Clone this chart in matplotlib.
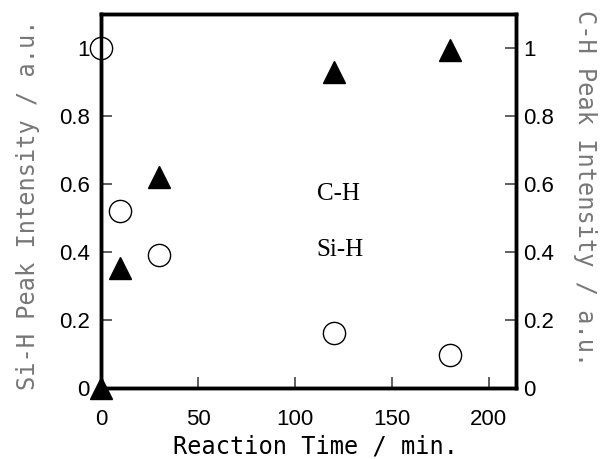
import matplotlib

matplotlib.use("Agg")
import matplotlib.pyplot as plt

# reaction time (min) and normalised peak intensities
time_sih = [0, 10, 30, 120, 180]
sih = [1.0, 0.52, 0.39, 0.163, 0.098]
time_ch = [0, 10, 30, 120, 180]
ch = [0.0, 0.353, 0.62, 0.93, 0.995]

yticks = [0, 0.2, 0.4, 0.6, 0.8, 1]
ytick_labels = ["0", "0.2", "0.4", "0.6", "0.8", "1"]
xticks = [0, 50, 100, 150, 200]

label_font = "DejaVu Sans Mono"
tick_font = "Liberation Sans"
W, H = 600, 459

fig = plt.figure(figsize=(W / 100, H / 100), dpi=100)
ax = fig.add_axes([101 / W, 1 - 388 / H, 415 / W, 374 / H])
ax2 = ax.twinx()

ax.plot(time_sih, sih, "o", ms=16, mfc="white", mec="black", mew=1.0,
        clip_on=False, zorder=3)
ax2.plot(time_ch, ch, "^", ms=16, mfc="black", mec="black",
         clip_on=False, zorder=3)

for a in (ax, ax2):
    a.set_xlim(0, 214)
    a.set_ylim(0, 1.1)
    a.set_yticks(yticks)
    a.set_yticklabels(ytick_labels, fontfamily=tick_font, fontsize=16)
    for s in a.spines.values():
        s.set_linewidth(2.5)
    a.tick_params(direction="in", length=8, width=1.2, color="#444444")

ax.set_xticks(xticks)
ax.set_xticklabels([str(v) for v in xticks], fontfamily=tick_font, fontsize=16)
ax.tick_params(axis="x", pad=15)
ax.tick_params(axis="y", pad=8)
ax2.tick_params(axis="y", pad=5)

fig.text(316 / W, 1 - 446 / H, "Reaction Time / min.", fontfamily=label_font,
         fontsize=17, ha="center", va="center")
fig.text(28 / W, 1 - 205 / H, "Si-H Peak Intensity / a.u.",
         fontfamily=label_font, fontsize=17, color="#777777",
         rotation=90, ha="center", va="center")
fig.text(585 / W, 1 - 188 / H, "C-H Peak Intensity / a.u.",
         fontfamily=label_font, fontsize=17, color="#777777",
         rotation=-90, ha="center", va="center")

ax.text(0.52, 0.52, "C-H", transform=ax.transAxes,
        fontfamily="Liberation Serif", fontsize=18, va="center")
ax.text(0.52, 0.37, "Si-H", transform=ax.transAxes,
        fontfamily="Liberation Serif", fontsize=18, va="center")

fig.savefig("out.png", dpi=100)
